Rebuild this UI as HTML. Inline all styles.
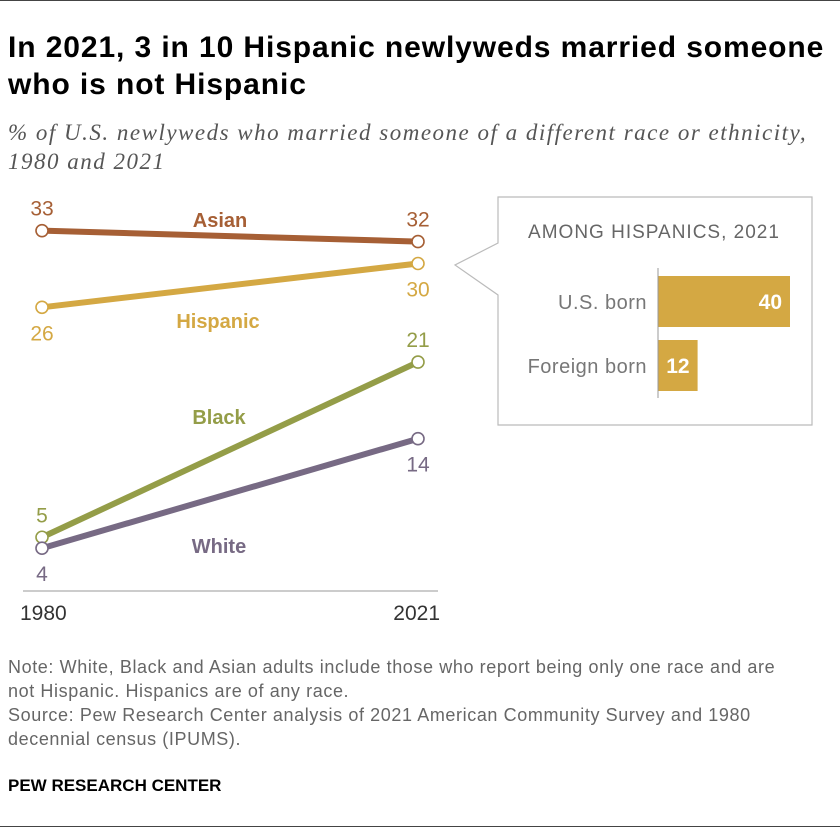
<!DOCTYPE html>
<html><head><meta charset="utf-8"><style>
body{margin:0;background:#fff;font-family:"Liberation Sans",sans-serif;}
#wrap{position:relative;width:840px;height:840px;overflow:hidden;}
.t{position:absolute;margin:0;}
</style></head><body>
<div id="wrap">
<div class="t" style="left:0;top:0;width:840px;height:1px;background:#444"></div>
<h1 class="t" style="left:8px;top:29px;font-size:30px;line-height:37px;font-weight:bold;color:#000;white-space:nowrap;letter-spacing:0.9px">In 2021, 3 in 10 Hispanic newlyweds married someone<br>who is not Hispanic</h1>
<div class="t" style="left:8px;top:118px;font-family:'Liberation Serif',serif;font-style:italic;font-size:23px;line-height:29px;color:#555;white-space:nowrap;letter-spacing:1.5px">% of U.S. newlyweds who married someone of a different race or ethnicity,<br>1980 and 2021</div>
<svg class="t" style="left:0;top:0" width="840" height="840" id="svg"></svg>
<div class="t" style="left:8px;top:655px;font-size:18px;line-height:24px;color:#666;white-space:nowrap;letter-spacing:0.6px">Note: White, Black and Asian adults include those who report being only one race and are<br>not Hispanic. Hispanics are of any race.<br>Source: Pew Research Center analysis of 2021 American Community Survey and 1980<br>decennial census (IPUMS).</div>
<div class="t" style="left:8px;top:776px;font-size:17px;font-weight:bold;color:#000">PEW RESEARCH CENTER</div>
<div class="t" style="left:0;top:826px;width:840px;height:1px;background:#444"></div>
</div>
<script>
const years=["1980","2021"];
const seriesNames=["Asian","Hispanic","Black","White"];
const asianVals=[33,32];
const hispanicVals=[26,30];
const blackVals=[5,21];
const whiteVals=[4,14];
const barCats=["U.S. born","Foreign born"];
const barVals=[40,12];
const NS="http://www.w3.org/2000/svg";
const svg=document.getElementById('svg');
function mk(tag,attrs,txt){const e=document.createElementNS(NS,tag);for(const k in attrs)e.setAttribute(k,attrs[k]);if(txt!=null)e.textContent=txt;svg.appendChild(e);return e;}
const xS=i=>42+i*376;
const yS=v=>592-10.95*v;
const bx=v=>658+v*3.3;
const series=[
 {name:"Asian",vals:asianVals,color:"#a65f35",lab:[-1,-1],labX:220,labY:227},
 {name:"Hispanic",vals:hispanicVals,color:"#d4a843",lab:[1,1],labX:218,labY:328},
 {name:"Black",vals:blackVals,color:"#949d48",lab:[-1,-1],labX:219,labY:424},
 {name:"White",vals:whiteVals,color:"#776a84",lab:[1,1],labX:219,labY:553}
];
let a=mk('line',{x1:23,x2:438,y1:591,y2:591,stroke:"#999","stroke-width":1});


years.forEach((y,i)=>{const t=mk('text',{x:i==0?20:440,y:620,"font-size":21,fill:"#333","text-anchor":i==0?"start":"end"},y);

});
series.forEach(s=>{
 const l=mk('line',{x1:xS(0),y1:yS(s.vals[0]),x2:xS(1),y2:yS(s.vals[1]),stroke:s.color,"stroke-width":6});
 
 
});
series.forEach(s=>{
 s.vals.forEach((v,i)=>{
  const c=mk('circle',{cx:xS(i),cy:yS(v),r:6,fill:"#fff",stroke:s.color,"stroke-width":1.6});
  
  
  const dy=s.lab[i]<0?-15:33;
  const t=mk('text',{x:xS(i),y:yS(v)+dy,"font-size":21,fill:s.color,"text-anchor":"middle"},v);
  
  
 });
 const n=mk('text',{x:s.labX,y:s.labY,"font-size":20,"font-weight":"bold",fill:s.color,"text-anchor":"middle"},s.name);
 
 
});
const p=mk('path',{d:"M498,197 H812 V425 H498 V295 L455,265 L498,243 Z",fill:"#fff",stroke:"#bbb","stroke-width":1.2});


const bt=mk('text',{x:654,y:238,"font-size":19,fill:"#666","text-anchor":"middle","letter-spacing":"1"},"AMONG HISPANICS, 2021");


barCats.forEach((c,i)=>{
 const y0=276+i*64;
 const r=mk('rect',{x:658,y:y0,width:bx(barVals[i])-658,height:51,fill:"#d4a843"});
 
 
 const lt=mk('text',{x:647,y:y0+33,"font-size":20,fill:"#777","text-anchor":"end","letter-spacing":"0.5"},c);
 
 
 const vt=mk('text',{x:bx(barVals[i])-8,y:y0+33,"font-size":21,"font-weight":"bold",fill:"#fff","text-anchor":"end"},barVals[i]);
 
 
});
const ax=mk('line',{x1:658,x2:658,y1:268,y2:398,stroke:"#999","stroke-width":1});


</script>
</body></html>
